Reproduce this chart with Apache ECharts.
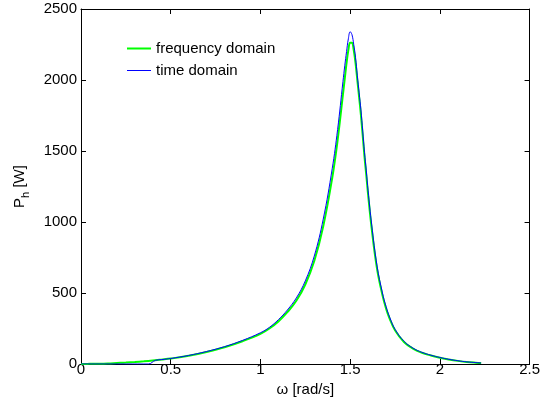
<!DOCTYPE html>
<html>
<head>
<meta charset="utf-8">
<script src="https://cdn.jsdelivr.net/npm/echarts@6/dist/echarts.min.js"></script>
<style>html,body{margin:0;padding:0;background:#fff}#c{width:543px;height:407px}</style>
</head>
<body>
<div id="c"></div>
<script>
// frequency-domain curve (omega [rad/s], P_h [W])
var freqOmega = [0,0.05,0.1,0.15,0.2,0.25,0.3,0.35,0.4,0.45,0.5,0.6,0.7,0.8,0.9,1.0,1.05,1.1,1.15,1.2,1.25,1.3,1.35,1.4,1.43,1.46,1.47,1.48,1.49,1.5,1.51,1.52,1.53,1.54,1.55,1.56,1.57,1.58,1.59,1.6,1.62,1.65,1.68,1.7,1.72,1.75,1.8,1.85,1.9,1.95,2.0,2.05,2.1,2.15,2.2,2.23];
var freqPower = [0,1,2,4,7,10,14,19,25,31,38,58,85,118,160,212,250,300,365,445,560,725,970,1310,1575,1900,2010,2120,2210,2262,2262,2210,2120,2000,1880,1755,1610,1460,1330,1195,955,670,485,392,320,238,155,108,79,60,44,32,22,14,9,7];
// time-domain curve
var timeOmega = [0,0.375,0.415,0.45,0.5,0.6,0.7,0.8,0.9,1.0,1.05,1.1,1.15,1.2,1.25,1.3,1.35,1.4,1.43,1.46,1.47,1.48,1.49,1.5,1.51,1.52,1.53,1.54,1.55,1.56,1.57,1.58,1.59,1.6,1.62,1.65,1.68,1.7,1.72,1.75,1.8,1.85,1.9,1.95,2.0,2.05,2.1,2.15,2.2,2.23];
var timePower = [0,0,26,31,39,60,88,122,166,220,258,312,380,465,585,760,1020,1375,1650,1990,2100,2200,2290,2340,2320,2250,2160,2030,1910,1790,1640,1490,1360,1220,980,690,500,405,330,245,160,112,82,62,46,33,23,15,10,7];

var xTicks = [0, 2.5, 0.5];
var yTicks = [0, 2500, 500];

function pairs(xs, ys){ return xs.map(function(x,i){ return [x, ys[i]]; }); }

var FONT = 'Liberation Sans';
var chart = echarts.init(document.getElementById('c'), null, {renderer:'canvas'});
var axisLine = {show:true, onZero:false, lineStyle:{color:'#000', width:1}};
var tick = {show:true, inside:true, length:5, lineStyle:{color:'#000', width:1}};
chart.setOption({
  animation:false,
  backgroundColor:'#fff',
  grid:{left:81, right:11, top:9, bottom:43, containLabel:false},
  legend:{
    orient:'vertical', left:127, top:41, padding:0, itemWidth:24, itemHeight:2, itemGap:7,
    textStyle:{fontFamily:FONT, fontSize:15, color:'#000'},
    data:[
      {name:'frequency domain', icon:'rect', itemStyle:{color:'#00ff00'}},
      {name:'time domain', icon:'path://M0,0H24V1H0Z', itemStyle:{color:'#0000ff'}}
    ]
  },
  xAxis:[
    {type:'value', min:xTicks[0], max:xTicks[1], interval:xTicks[2], position:'bottom',
     axisLine:axisLine, axisTick:tick, splitLine:{show:false},
     axisLabel:{fontFamily:FONT, fontSize:15, color:'#000', margin:-2},
     name:'ω [rad/s]', nameLocation:'middle', nameGap:15,
     nameTextStyle:{fontFamily:FONT, fontSize:15, color:'#000'}},
    {type:'value', min:xTicks[0], max:xTicks[1], interval:xTicks[2], position:'top',
     axisLine:axisLine, axisTick:tick, splitLine:{show:false}, axisLabel:{show:false}}
  ],
  yAxis:[
    {type:'value', min:yTicks[0], max:yTicks[1], interval:yTicks[2], position:'left',
     axisLine:axisLine, axisTick:tick, splitLine:{show:false},
     axisLabel:{fontFamily:FONT, fontSize:15, color:'#000', margin:4, formatter:function(v){return String(v);}},
     name:'{a|P}{b|h}{a| [W]}', nameLocation:'middle', nameGap:50, nameRotate:90,
     nameTextStyle:{fontFamily:FONT, fontSize:15, color:'#000',
       rich:{a:{fontFamily:FONT, fontSize:15, color:'#000'},
             b:{fontFamily:FONT, fontSize:11, color:'#000', padding:[12,0,0,0]}}}},
    {type:'value', min:yTicks[0], max:yTicks[1], interval:yTicks[2], position:'right',
     axisLine:axisLine, axisTick:tick, splitLine:{show:false}, axisLabel:{show:false}}
  ],
  series:[
    {name:'frequency domain', type:'line', xAxisIndex:0, yAxisIndex:0, data:pairs(freqOmega, freqPower),
     showSymbol:false, smooth:0.4, lineStyle:{color:'#00ff00', width:2}, itemStyle:{color:'#00ff00'}},
    {name:'time domain', type:'line', xAxisIndex:0, yAxisIndex:0, data:pairs(timeOmega, timePower),
     showSymbol:false, smooth:0.4, lineStyle:{color:'#0000ff', width:1}, itemStyle:{color:'#0000ff'}}
  ]
});
</script>
</body>
</html>
